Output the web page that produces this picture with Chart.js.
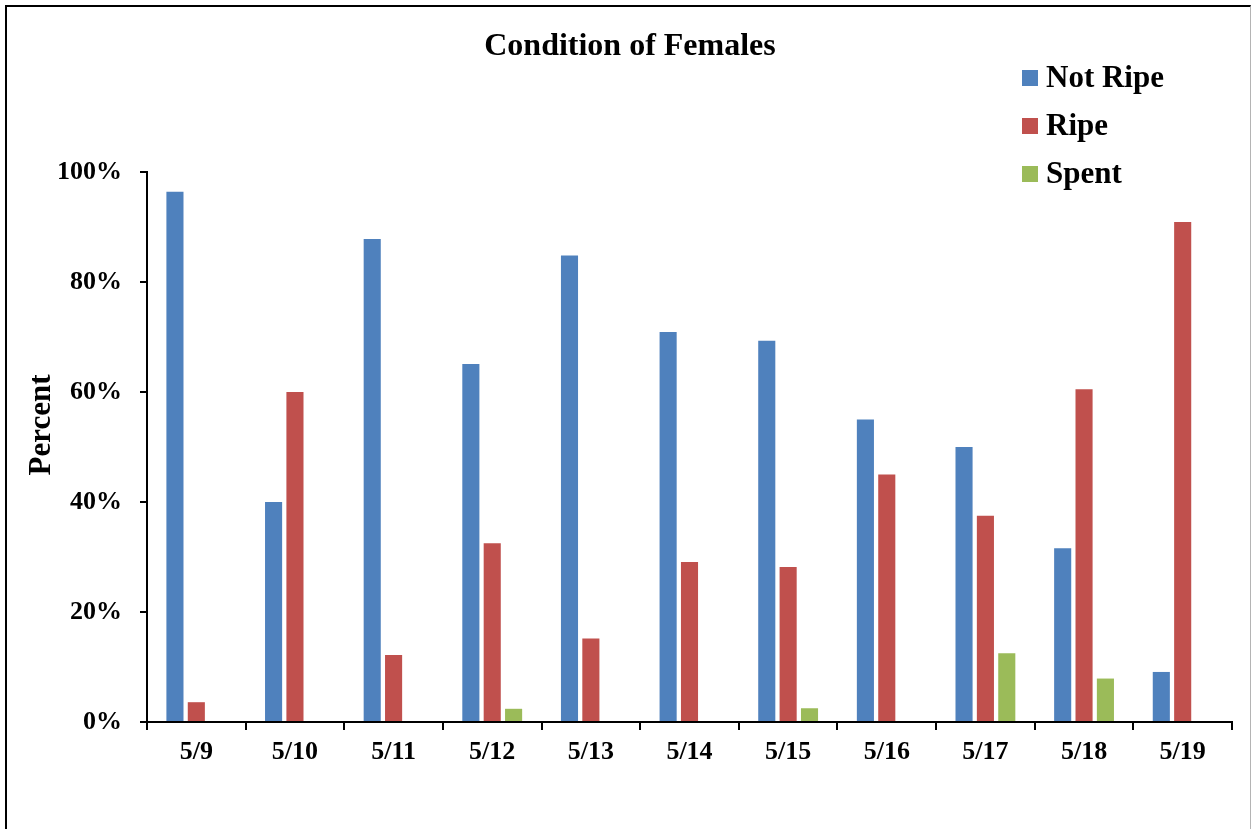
<!DOCTYPE html>
<html>
<head>
<meta charset="utf-8">
<title>Condition of Females</title>
<script src="https://cdn.jsdelivr.net/npm/chart.js@4.4.1/dist/chart.umd.min.js"></script>
<style>
  html, body { margin: 0; padding: 0; background: #fff; }
  #wrap { position: relative; width: 1252px; height: 829px; overflow: hidden; }
  #frame {
    position: absolute; left: 5px; top: 5px; width: 1246px; height: 900px;
    border-left: 2px solid #000; border-top: 2px solid #000; border-right: 1px solid #b4b4b4;
    box-sizing: border-box; pointer-events: none;
  }
  canvas { position: absolute; left: 0; top: 0; }
</style>
</head>
<body>
<div id="wrap">
  <canvas id="chart" width="1252" height="829"></canvas>
  <div id="frame"></div>
</div>
<script>
// Sampling dates
const categories = ['5/9', '5/10', '5/11', '5/12', '5/13', '5/14', '5/15', '5/16', '5/17', '5/18', '5/19'];

// Percent of females in each condition per date
const notRipe = [96.4, 40.0, 87.8, 65.1, 84.8, 70.9, 69.3, 55.0, 50.0, 31.6, 9.1];
const ripe    = [3.6, 60.0, 12.2, 32.5, 15.2, 29.1, 28.2, 45.0, 37.5, 60.5, 90.9];
const spent   = [0, 0, 0, 2.4, 0, 0, 2.5, 0, 12.5, 7.9, 0];

// Y axis ticks
const yTicks = [0, 20, 40, 60, 80, 100];

const titleText = 'Condition of Females';
const yAxisTitle = 'Percent';
const serif = "'Liberation Serif', 'Times New Roman', serif";

// Title, vertical legend and rotated axis title
const annotations = {
  id: 'annotations',
  afterDraw(chart) {
    const ctx = chart.ctx;
    ctx.save();
    ctx.fillStyle = '#000';

    ctx.font = 'bold 32px ' + serif;
    ctx.textAlign = 'center';
    ctx.textBaseline = 'alphabetic';
    ctx.fillText(titleText, 630, 55);

    ctx.font = 'bold 31px ' + serif;
    ctx.textAlign = 'left';
    chart.data.datasets.forEach((ds, i) => {
      const base = 87 + i * 48;
      ctx.fillStyle = ds.backgroundColor;
      ctx.fillRect(1022, base - 17, 16, 16);
      ctx.fillStyle = '#000';
      ctx.fillText(ds.label, 1046, base);
    });

    ctx.translate(42, 425);
    ctx.rotate(-Math.PI / 2);
    ctx.textAlign = 'center';
    ctx.textBaseline = 'middle';
    ctx.font = 'bold 31px ' + serif;
    ctx.fillText(yAxisTitle, 0, 0);
    ctx.restore();
  }
};

new Chart(document.getElementById('chart'), {
  type: 'bar',
  data: {
    labels: categories,
    datasets: [
      { label: 'Not Ripe', data: notRipe, backgroundColor: '#4F81BD' },
      { label: 'Ripe', data: ripe, backgroundColor: '#C0504D' },
      { label: 'Spent', data: spent, backgroundColor: '#9BBB59' }
    ]
  },
  options: {
    responsive: false,
    animation: false,
    devicePixelRatio: 1,
    datasets: {
      bar: { categoryPercentage: 0.65, barPercentage: 0.8, borderWidth: 0 }
    },
    layout: { padding: { top: 172, right: 20, left: 0, bottom: 0 } },
    plugins: {
      legend: { display: false },
      title: { display: false },
      tooltip: { enabled: false }
    },
    scales: {
      x: {
        offset: true,
        grid: {
          offset: true, drawOnChartArea: false, drawTicks: true,
          tickLength: 8, color: '#000', lineWidth: 2
        },
        border: { display: true, color: '#000', width: 2 },
        ticks: {
          color: '#000', padding: 7, maxRotation: 0, autoSkip: false,
          font: { family: serif, size: 26, weight: 'bold' }
        },
        afterFit(scale) { scale.height = 107; scale.paddingLeft = 0; scale.paddingRight = 0; }
      },
      y: {
        min: 0, max: 100,
        afterBuildTicks(scale) { scale.ticks = yTicks.map(v => ({ value: v })); },
        grid: {
          drawOnChartArea: false, drawTicks: true,
          tickLength: 7, color: '#000', lineWidth: 2
        },
        border: { display: true, color: '#000', width: 2 },
        ticks: {
          color: '#000', padding: 18,
          font: { family: serif, size: 26, weight: 'bold' },
          callback: v => v + '%'
        },
        afterFit(scale) { scale.width = 147; scale.paddingTop = 0; scale.paddingBottom = 0; }
      }
    }
  },
  plugins: [annotations]
});
</script>
</body>
</html>
